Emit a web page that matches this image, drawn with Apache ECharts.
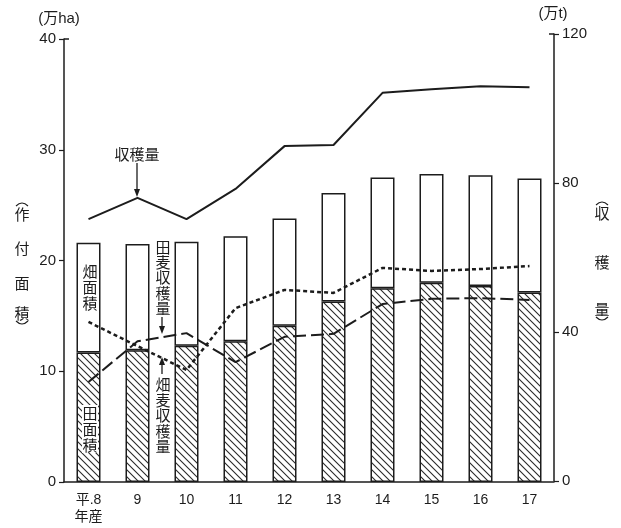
<!DOCTYPE html>
<html><head><meta charset="utf-8">
<script src="https://cdn.jsdelivr.net/npm/echarts@6/dist/echarts.min.js"></script>
<style>html,body{margin:0;padding:0;background:#fff}#c{width:621px;height:528px}</style>
</head><body><div id="c"></div>
<script>
// ---- data ----
const categories = ['平.8\n年産','9','10','11','12','13','14','15','16','17'];
const paddyArea  = [11.7, 11.9, 12.3, 12.7, 14.1, 16.3, 17.5, 18.0, 17.7, 17.1];   // 田面積 (万ha)
const uplandArea = [9.9, 9.6, 9.4, 9.5, 9.7, 9.8, 10.0, 9.8, 10.0, 10.3];          // 畑面積 (万ha)
const totalHarvest  = [70.3, 76.0, 70.3, 78.4, 89.9, 90.2, 104.2, 105.2, 106.0, 105.7]; // 収穫量 (万t)
const paddyHarvest  = [42.7, 36.2, 29.8, 46.4, 51.3, 50.5, 57.2, 56.4, 56.9, 57.7];     // 田麦収穫量
const uplandHarvest = [26.6, 37.5, 39.7, 31.9, 38.7, 39.5, 47.5, 48.9, 49.1, 48.6];     // 畑麦収穫量
const leftTicks = [0, 10, 20, 30, 40];
const rightTicks = [0, 40, 80, 120];

const INK = '#1c1c1c';
const FONT = '"Liberation Sans", "Noto Sans CJK JP", sans-serif';
const JFONT = '"Noto Sans CJK JP", sans-serif';

// hatch pattern "\\\\"
const hatch = document.createElement('canvas');
hatch.width = 7; hatch.height = 7;
(function(){
  const c = hatch.getContext('2d');
  c.fillStyle = '#fff'; c.fillRect(0,0,7,7);
  c.strokeStyle = '#2a2a2a'; c.lineWidth = 1.1;
  c.beginPath();
  c.moveTo(-1,-1); c.lineTo(8,8);
  c.moveTo(-1,6); c.lineTo(1,8);
  c.moveTo(6,-1); c.lineTo(8,1);
  c.stroke();
})();

const Z = 100;
function vtext(x, ys, chars, size) {
  return chars.map((ch, i) => ({
    type: 'text', x: x, y: ys[i], z: Z,
    style: { text: ch, fill: INK, font: size + 'px ' + JFONT, align: 'center', verticalAlign: 'middle' }
  }));
}
// vertical-writing parenthesis: apex at y, opening toward the text
function paren(cx, y, top) {
  const d = top ? 1 : -1;
  return { type: 'bezierCurve', z: Z,
    shape: { x1: cx - 6, y1: y + d * 3, x2: cx + 6, y2: y + d * 3, cpx1: cx, cpy1: y - d * 3 },
    style: { stroke: INK, lineWidth: 1.1, fill: null } };
}
function arrow(x, y1, y2) { // arrow from y1 to tip at y2
  const dir = y2 > y1 ? 1 : -1;
  return [
    { type: 'line', z: Z, shape: { x1: x, y1: y1, x2: x, y2: y2 - dir * 6 }, style: { stroke: INK, lineWidth: 1.3 } },
    { type: 'polygon', z: Z, shape: { points: [[x - 3, y2 - dir * 8], [x + 3, y2 - dir * 8], [x, y2]] }, style: { fill: INK } }
  ];
}

const chart = echarts.init(document.getElementById('c'), null, { renderer: 'canvas' });

const graphics = [].concat(
  [
    { type: 'text', z: Z, x: 59, y: 19, style: { text: '(万ha)', fill: INK, font: '15px ' + FONT, align: 'center', verticalAlign: 'middle' } },
    { type: 'text', z: Z, x: 553, y: 14, style: { text: '(万t)', fill: INK, font: '15px ' + FONT, align: 'center', verticalAlign: 'middle' } },
    { type: 'text', z: Z, x: 137, y: 154, style: { text: '収穫量', fill: INK, font: '15px ' + JFONT, align: 'center', verticalAlign: 'middle' } },
    // top hooks on axes
    { type: 'line', z: Z, shape: { x1: 64, y1: 39, x2: 69, y2: 39 }, style: { stroke: INK, lineWidth: 1.5 } },
    { type: 'line', z: Z, shape: { x1: 549, y1: 34, x2: 554, y2: 34 }, style: { stroke: INK, lineWidth: 1.5 } },
    paren(22, 203, true), paren(22, 324, false),
    paren(602, 202, true), paren(602, 320, false)
  ],
  vtext(22, [214, 248, 283, 313], ['作','付','面','積'], 15),
  vtext(602, [213, 262, 309], ['収','穫','量'], 15),
  vtext(163, [247, 262, 277, 293, 308], ['田','麦','収','穫','量'], 15),
  vtext(163, [384, 400, 415, 431, 446], ['畑','麦','収','穫','量'], 15),
  vtext(90, [271, 287, 303], ['畑','面','積'], 15),
  [{ type: 'rect', z: Z, shape: { x: 82, y: 405, width: 16, height: 48 }, style: { fill: '#fff' } }],
  vtext(90, [413, 429, 445], ['田','面','積'], 15),
  arrow(137, 163, 197),
  arrow(162, 317, 334),
  arrow(162, 374, 357)
);

chart.setOption({
  backgroundColor: '#fff',
  animation: false,
  grid: [
    { left: 64, right: 67, top: 39, bottom: 46 },
    { left: 64, right: 67, top: 34, bottom: 47 }
  ],
  xAxis: [
    { type: 'category', gridIndex: 0, data: categories,
      axisLine: { lineStyle: { color: INK, width: 1.5 } }, axisTick: { show: false },
      axisLabel: { color: INK, fontSize: 14, fontFamily: FONT, margin: 10, lineHeight: 17 } },
    { type: 'category', gridIndex: 1, data: categories, show: false }
  ],
  yAxis: [
    { type: 'value', gridIndex: 0, position: 'left', min: leftTicks[0], max: leftTicks[leftTicks.length - 1], interval: 10,
      axisLine: { show: true, lineStyle: { color: INK, width: 1.5 } },
      axisTick: { show: true, length: 5, lineStyle: { color: INK, width: 1.2 } },
      axisLabel: { color: INK, fontSize: 15, fontFamily: FONT, margin: 8 },
      splitLine: { show: false } },
    { type: 'value', gridIndex: 1, position: 'right', min: rightTicks[0], max: rightTicks[rightTicks.length - 1], interval: 40,
      axisLine: { show: true, lineStyle: { color: INK, width: 1.5 } },
      axisTick: { show: true, length: 5, lineStyle: { color: INK, width: 1.2 } },
      axisLabel: { color: INK, fontSize: 15, fontFamily: FONT, margin: 8 },
      splitLine: { show: false } }
  ],
  series: [
    { name: '田面積', type: 'bar', xAxisIndex: 0, yAxisIndex: 0, stack: 'area', barWidth: 24, data: paddyArea,
      itemStyle: { color: { image: hatch, repeat: 'repeat' }, borderColor: INK, borderWidth: 1.5 } },
    { name: '畑面積', type: 'bar', xAxisIndex: 0, yAxisIndex: 0, stack: 'area', barWidth: 24, data: uplandArea,
      itemStyle: { color: '#fff', borderColor: INK, borderWidth: 1.5 } },
    { name: '収穫量', type: 'line', xAxisIndex: 1, yAxisIndex: 1, data: totalHarvest, symbol: 'none',
      lineStyle: { color: INK, width: 2 } },
    { name: '田麦収穫量', type: 'line', xAxisIndex: 1, yAxisIndex: 1, data: paddyHarvest, symbol: 'none',
      lineStyle: { color: INK, width: 2.5, type: [4, 3] } },
    { name: '畑麦収穫量', type: 'line', xAxisIndex: 1, yAxisIndex: 1, data: uplandHarvest, symbol: 'none',
      lineStyle: { color: INK, width: 2, type: [13, 5] } }
  ],
  graphic: graphics
});
</script></body></html>
